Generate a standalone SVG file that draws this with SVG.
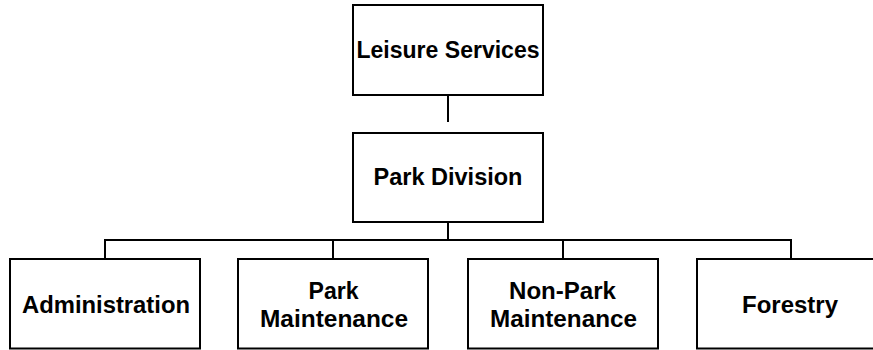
<svg xmlns="http://www.w3.org/2000/svg" width="873" height="350" viewBox="0 0 873 350">
<style>
.box{fill:#fff;stroke:#000;stroke-width:2}
.ln{stroke:#000;stroke-width:2;fill:none}
text{font-family:"Liberation Sans",Arial,sans-serif;font-weight:bold;font-size:23.5px;fill:#000;text-anchor:middle}
</style>
<rect width="873" height="350" fill="#fff"/>
<g id="connectors">
<line class="ln" x1="448" y1="95" x2="448" y2="122"/>
<line class="ln" x1="448" y1="222" x2="448" y2="240"/>
<polyline class="ln" points="105,259 105,240 791,240 791,259"/>
<line class="ln" x1="333" y1="240" x2="333" y2="259"/>
<line class="ln" x1="563" y1="240" x2="563" y2="259"/>
</g>
<g id="leisure">
<rect class="box" x="353" y="5" width="190" height="90"/>
<text x="448" y="57.5" textLength="183" lengthAdjust="spacingAndGlyphs">Leisure Services</text>
</g>
<g id="park-division">
<rect class="box" x="353" y="133" width="190" height="89"/>
<text x="448" y="185" textLength="149" lengthAdjust="spacingAndGlyphs">Park Division</text>
</g>
<g id="administration">
<rect class="box" x="10" y="259" width="190" height="89.5"/>
<text x="106" y="312.5" textLength="168" lengthAdjust="spacingAndGlyphs">Administration</text>
</g>
<g id="park-maintenance">
<rect class="box" x="238" y="259" width="190" height="89.5"/>
<text x="333.5" y="299" textLength="50" lengthAdjust="spacingAndGlyphs">Park</text>
<text x="334" y="326.5" textLength="148" lengthAdjust="spacingAndGlyphs">Maintenance</text>
</g>
<g id="non-park-maintenance">
<rect class="box" x="468" y="259" width="190" height="89.5"/>
<text x="562.5" y="299" textLength="107" lengthAdjust="spacingAndGlyphs">Non-Park</text>
<text x="563.5" y="326.5" textLength="147" lengthAdjust="spacingAndGlyphs">Maintenance</text>
</g>
<g id="forestry">
<rect class="box" x="697" y="259" width="188" height="89.5"/>
<text x="790" y="312.5" textLength="96" lengthAdjust="spacingAndGlyphs">Forestry</text>
</g>
</svg>
